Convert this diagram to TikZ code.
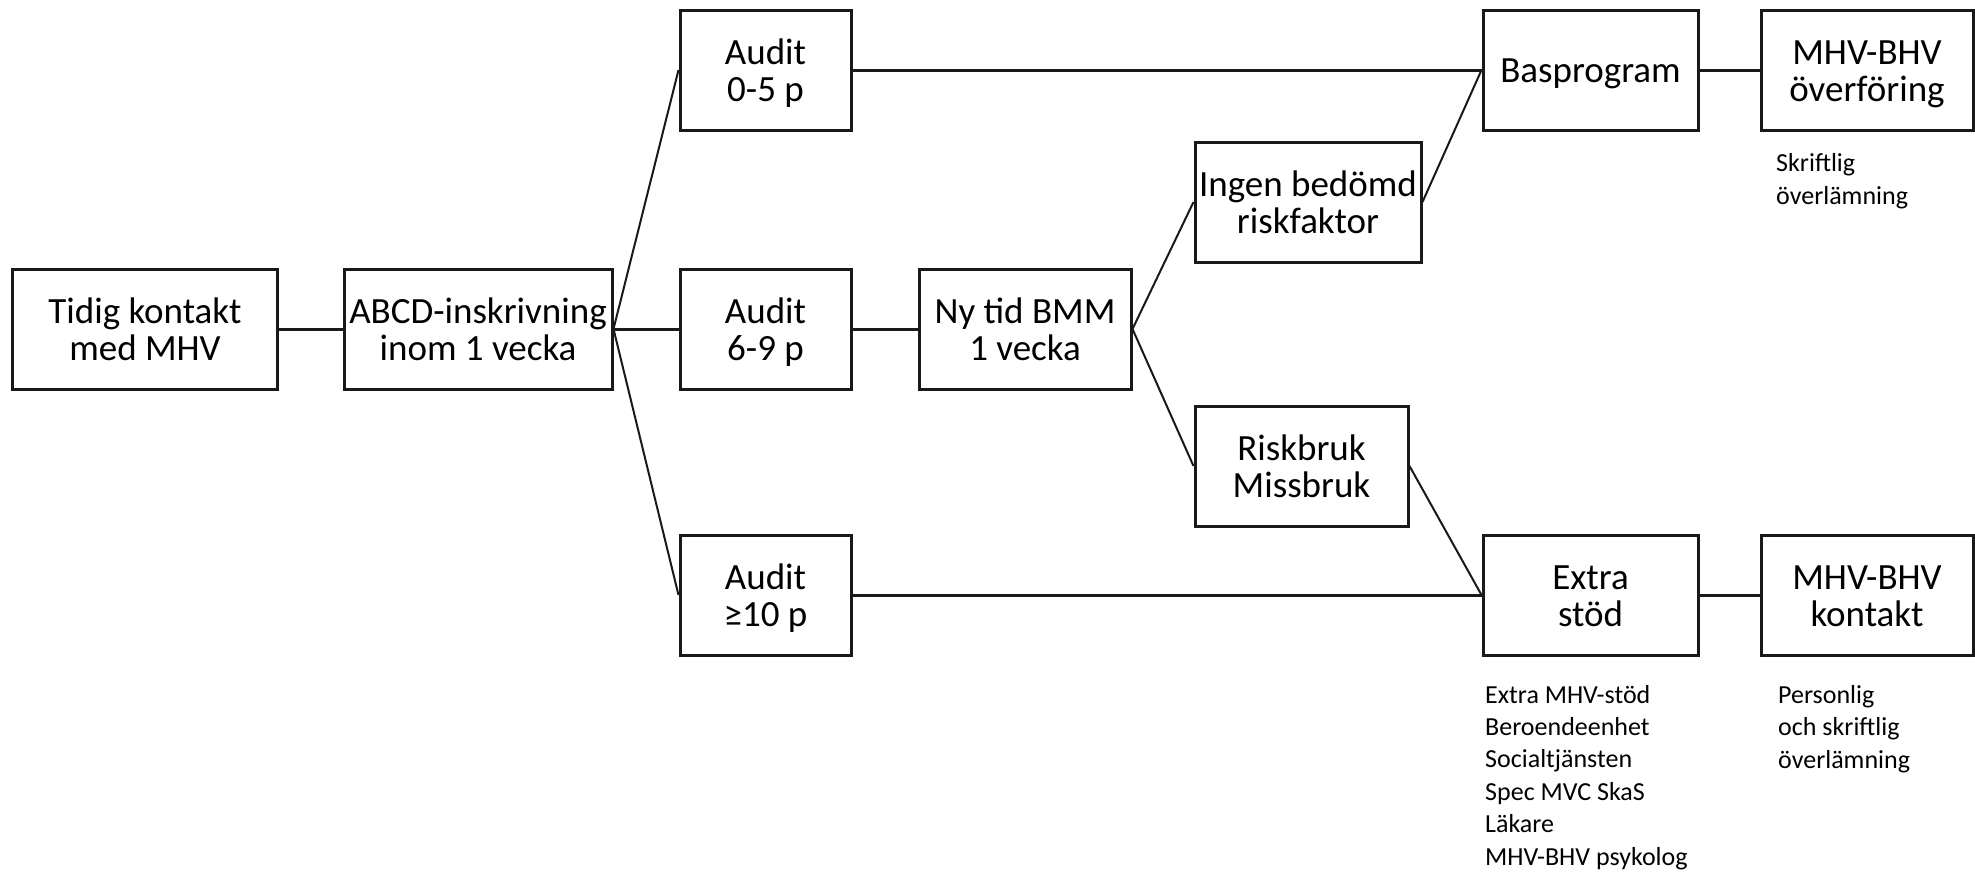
\documentclass[tikz,border=0pt]{standalone}
\usepackage{fontspec}
\setmainfont{Carlito}
\begin{document}
\begin{tikzpicture}[x=1pt,y=-1pt,
  box/.style={draw=black!90,line width=3pt,rectangle,minimum height=120pt,inner sep=0pt,align=center,
    font=\fontsize{37}{37}\selectfont,text depth=0pt},
  boxtwo/.style={box,text height=62pt},
  boxone/.style={box,text height=25pt},
  conn/.style={line width=3pt,draw=black!90},
  diag/.style={line width=2pt,draw=black!90},
  note/.style={anchor=base west,inner sep=0pt,align=left,font=\fontsize{26}{32.4}\selectfont}]
\useasboundingbox (0,0) rectangle (1975,871);
\node[boxtwo,minimum width=265pt] (tidig) at (145,329) {Tidig kontakt\\med MHV};
\node[boxtwo,minimum width=268pt] (abcd) at (478,329) {ABCD-inskrivning\\inom 1 vecka};
\node[boxtwo,minimum width=171pt] (a1) at (765.5,70) {Audit\\0-5 p};
\node[boxtwo,minimum width=171pt] (a2) at (765.5,329) {Audit\\6-9 p};
\node[boxtwo,minimum width=171pt] (a3) at (765.5,595) {Audit\\≥10 p};
\node[boxtwo,minimum width=212pt] (ny) at (1025,329) {Ny tid BMM\\1 vecka};
\node[boxtwo,minimum width=226pt] (ingen) at (1308,202) {Ingen bedömd\\riskfaktor};
\node[boxtwo,minimum width=213pt] (risk) at (1301.5,466) {Riskbruk\\Missbruk};
\node[boxone,minimum width=215pt] (bas) at (1590.5,70) {Basprogram};
\node[boxtwo,minimum width=212pt] (over) at (1867,70) {MHV-BHV\\överföring};
\node[boxtwo,minimum width=215pt] (extra) at (1590.5,595) {Extra\\stöd};
\node[boxtwo,minimum width=212pt] (kont) at (1867,595) {MHV-BHV\\kontakt};
\node[note] (n1) at (1776,204) {Skriftlig\\överlämning};
\node[note] (n2) at (1485,865) {Extra MHV-stöd\\Beroendeenhet\\Socialtjänsten\\Spec MVC SkaS\\Läkare\\MHV-BHV psykolog};
\node[note] (n3) at (1778,768) {Personlig\\och skriftlig\\överlämning};
\draw[conn] (tidig.east) -- (abcd.west);
\draw[diag] (abcd.east) -- (a1.west);
\draw[conn] (abcd.east) -- (a2.west);
\draw[diag] (abcd.east) -- (a3.west);
\draw[conn] (a1.east) -- (bas.west);
\draw[conn] (a2.east) -- (ny.west);
\draw[diag] (ny.east) -- (ingen.west);
\draw[diag] (ny.east) -- (risk.west);
\draw[diag] (ingen.east) -- (bas.west);
\draw[diag] (risk.east) -- (extra.west);
\draw[conn] (a3.east) -- (extra.west);
\draw[conn] (bas.east) -- (over.west);
\draw[conn] (extra.east) -- (kont.west);
\end{tikzpicture}
\end{document}
